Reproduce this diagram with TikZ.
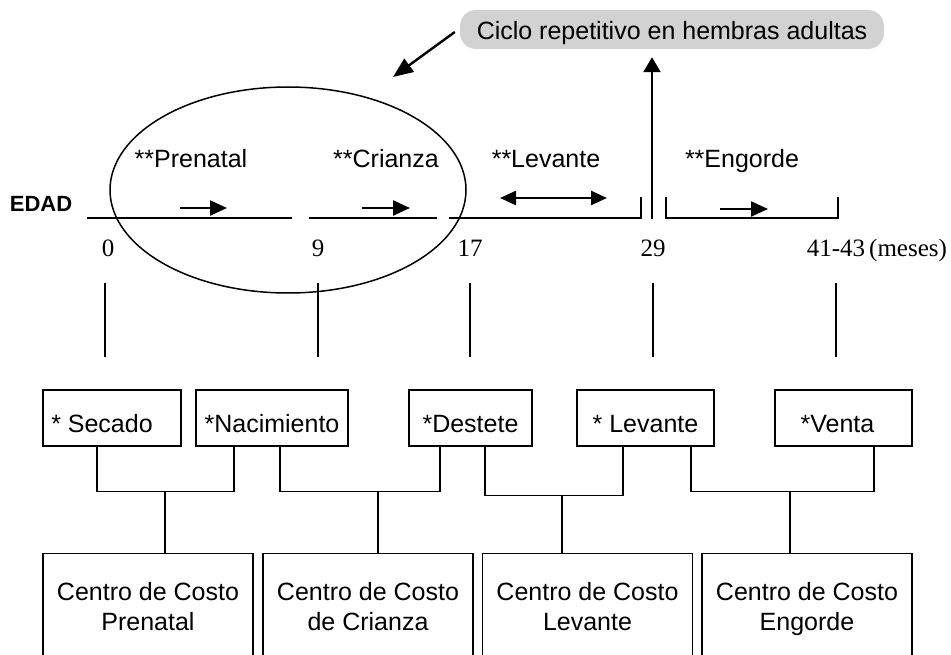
\documentclass[tikz,border=0pt]{standalone}
\usepackage{fontspec}
\setmainfont{Liberation Sans}
\newfontfamily\numfont{Liberation Serif}
\usetikzlibrary{arrows.meta}

\begin{document}
\begin{tikzpicture}[x=1pt, y=-1pt,
  txt/.style={font=\fontsize{25}{30}\selectfont},
  lbl/.style={txt, anchor=base, inner sep=0pt},
  num/.style={font=\numfont\fontsize{25}{30}\selectfont, anchor=base, inner sep=0pt},
  smallbox/.style={txt, draw, line width=1.3pt, minimum height=56pt, text height=28pt, text depth=0pt, inner xsep=2pt},
  bigbox/.style={txt, draw, line width=1.3pt, anchor=north, align=center, minimum width=210pt, minimum height=115pt},
  link/.style={line width=1.4pt},
  tline/.style={line width=1.6pt},
  tarrow/.style={line width=2.4pt, -{Triangle[length=17pt, width=15pt]}}]

\useasboundingbox (0,0) rectangle (951,655);
\clip (0,0) rectangle (951,655);

% First, the cycle note and its arrows
\draw (672,29.5) node[txt, fill=gray!35, rounded corners=16pt, minimum width=424pt, minimum height=39pt,
  text height=22pt, text depth=1pt, inner sep=0pt] (ciclo) {Ciclo repetitivo en hembras adultas};
\coordinate (cicloTip) at (393,77);
\draw[line width=2.4pt, -{Triangle[length=20pt, width=16pt]}] ([xshift=-5pt, yshift=-2.5pt]ciclo.west) -- (cicloTip);
\coordinate (m29) at (652,219);
\draw[line width=2.4pt, -{Triangle[length=15pt, width=17pt]}, shorten >=8pt] (m29) -- (m29 |- ciclo.south);

% The ellipse round the first two stages
\draw[line width=1.5pt] (288,190) ellipse [x radius=178pt, y radius=103pt];

% Time line, in pieces
\draw[tline] (87,218) -- (292,218);
\draw[tline] (309,218) -- (437,218);
\draw[tline] (449,218) -- (641,218) -- (641,197);
\draw[tline] (666,197) -- (666,218) -- (838,218) -- (838,197);

% Stage arrows
\draw[tarrow] (180,208) -- (227,208);
\draw[tarrow] (362,208) -- (410,208);
\draw[line width=2.4pt, {Triangle[length=16pt, width=14pt]}-{Triangle[length=16pt, width=14pt]}] (500,198) -- (607,198);
\draw[tarrow] (720,209) -- (768,209);

% Stage names
\node[lbl, font=\bfseries\fontsize{22}{26}\selectfont] (edad) at (41,212) {EDAD};
\node[lbl] (sPre) at (191,168) {**Prenatal};
\node[lbl] (sCri) at (386,168) {**Crianza};
\node[lbl] (sLev) at (546,168) {**Levante};
\node[lbl] (sEng) at (742,168) {**Engorde};

% Months, and the drop lines under them
\foreach \x/\t [count=\i] in {108/0, 318/9, 470/17, 653/29, 836/41-43}
  \node[num] (n\i) at (\x,257) {\t};
\node[num, anchor=base west] (meses) at (869,257) {(meses)};
\foreach \x in {105,318,470,653,836}
  \draw[link] (\x,283) -- (\x,357);

% Events
\draw (112,418) node[smallbox, minimum width=138pt] (sec) {* Secado\hspace{20pt}\mbox{}};
\draw (272,418) node[smallbox, minimum width=152pt] (nac) {*Nacimiento};
\draw (470.5,418) node[smallbox, minimum width=123pt] (des) {*Destete};
\draw (645.5,418) node[smallbox, minimum width=137pt] (lev) {* Levante};
\draw (843.5,418) node[smallbox, minimum width=137pt] (ven) {*Venta\hspace{12pt}\mbox{}};

% Cost centres
\draw (148,553) node[bigbox] (cpre) {Centro de Costo\\Prenatal\strut};
\draw (368,553) node[bigbox] (ccri) {Centro de Costo\\de Crianza\strut};
\draw (587.5,553) node[bigbox] (clev) {Centro de Costo\\Levante\strut};
\draw (807,553) node[bigbox] (ceng) {Centro de Costo\\Engorde\strut};

% Brackets joining two events to one centre
\draw[link] ([xshift=-15pt]sec.south) -- ++(0,45) -| ([xshift=-38pt]nac.south);
\draw[link] ([xshift=17pt]cpre.north) -- ++(0,-62);
\draw[link] ([xshift=8pt]nac.south) -- ++(0,45) -| ([xshift=-30.5pt]des.south);
\draw[link] ([xshift=10pt]ccri.north) -- ++(0,-62);
\draw[link] ([xshift=14.5pt]des.south) -- ++(0,49) -| ([xshift=-22.5pt]lev.south);
\draw[link] ([xshift=-25.5pt]clev.north) -- ++(0,-58);
\draw[link] ([xshift=45.5pt]lev.south) -- ++(0,45) -| ([xshift=30.5pt]ven.south);
\draw[link] ([xshift=-17pt]ceng.north) -- ++(0,-62);
\end{tikzpicture}
\end{document}
